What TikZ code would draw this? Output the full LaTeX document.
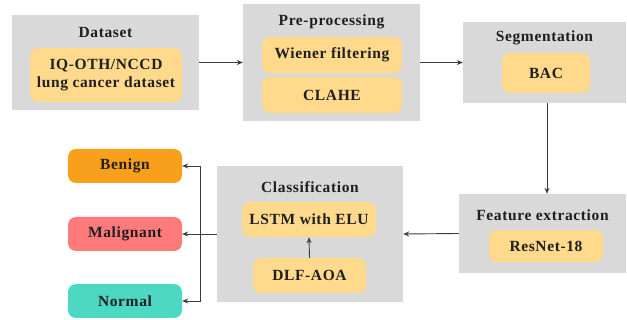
\documentclass[tikz,border=0pt]{standalone}
\usepackage{fontspec}
\setmainfont{Liberation Serif}[BoldFont={Liberation Serif Bold}, LetterSpace=4]
\usetikzlibrary{arrows.meta}
\usepackage{xcolor}
\definecolor{panel}{RGB}{217,217,217}
\definecolor{inner}{RGB}{255,217,140}
\definecolor{benignc}{RGB}{248,160,28}
\definecolor{malignc}{RGB}{255,122,122}
\definecolor{normalc}{RGB}{77,216,196}
\definecolor{linec}{RGB}{60,60,60}

\begin{document}
\begin{tikzpicture}[
    x=1pt, y=-1pt,
    every node/.style={font=\rmfamily\bfseries\fontsize{15.5}{18}\selectfont, text=black!88},
    panelbox/.style={fill=panel, draw=none, inner sep=0pt},
    innerbox/.style={fill=inner, draw=none, rounded corners=8pt, align=center, inner sep=0pt},
    classbox/.style={draw=none, rounded corners=8pt, inner sep=0pt, minimum width=114pt, minimum height=34pt},
    flow/.style={draw=linec, line width=0.9pt, -{Stealth[length=6pt,width=5pt]}}
]
\useasboundingbox (0,0) rectangle (627,320);

% pipeline panels
\node[panelbox, minimum width=187pt, minimum height=95pt] (dset) at (105.5,62.5) {};
\node (dsettitle) at (105.5,33) {Dataset};
\node[innerbox, minimum width=152pt, minimum height=54pt] (iq) at (106,75) {IQ-OTH/NCCD\\lung cancer dataset};

\node[panelbox, minimum width=177pt, minimum height=117pt] (pre) at (331.5,62.5) {};
\node (pretitle) at (331.5,22) {Pre-processing};
\node[innerbox, minimum width=140pt, minimum height=36pt] (wiener) at (332,55) {Wiener filtering};
\node[innerbox, minimum width=140pt, minimum height=36pt] (clahe) at (332,95) {CLAHE};

\node[panelbox, minimum width=163pt, minimum height=81pt] (seg) at (544.5,62.5) {};
\node (segtitle) at (544.5,38) {Segmentation};
\node[innerbox, minimum width=88pt, minimum height=40pt] (bac) at (546,73) {BAC};

\node[panelbox, minimum width=167pt, minimum height=79pt] (feat) at (542.5,233.5) {};
\node (feattitle) at (542.5,215) {Feature extraction};
\node[innerbox, minimum width=114pt, minimum height=32pt] (resnet) at (546,246) {ResNet-18};

\node[panelbox, minimum width=186pt, minimum height=136pt] (cls) at (310,234) {};
\node (clstitle) at (310,187) {Classification};
\node[innerbox, minimum width=134pt, minimum height=35pt] (lstm) at (309,219.5) {LSTM with ELU};
\node[innerbox, minimum width=113pt, minimum height=35pt] (dlf) at (309.5,275.5) {DLF-AOA};

% outputs
\node[classbox, fill=benignc] (benign) at (125,166) {Benign};
\node[classbox, fill=malignc] (malig) at (125,234) {Malignant};
\node[classbox, fill=normalc] (normal) at (125,301) {Normal};

% connectors
\draw[flow] (dset.east) -- (pre.west);
\draw[flow] (pre.east) -- (seg.west);
\draw[flow] ([xshift=2.5pt]seg.south) -- ([xshift=4.5pt]feat.north);
\draw[flow] (feat.west) -- (cls.east);
\draw[flow] (dlf.north) -- (lstm.south);
\coordinate (split) at (200,234);
\draw[draw=linec, line width=0.9pt] (cls.west) -- (split);
\draw[flow] (split) |- (benign.east);
\draw[flow] (split) -- (malig.east);
\draw[flow] (split) |- (normal.east);
\end{tikzpicture}
\end{document}
